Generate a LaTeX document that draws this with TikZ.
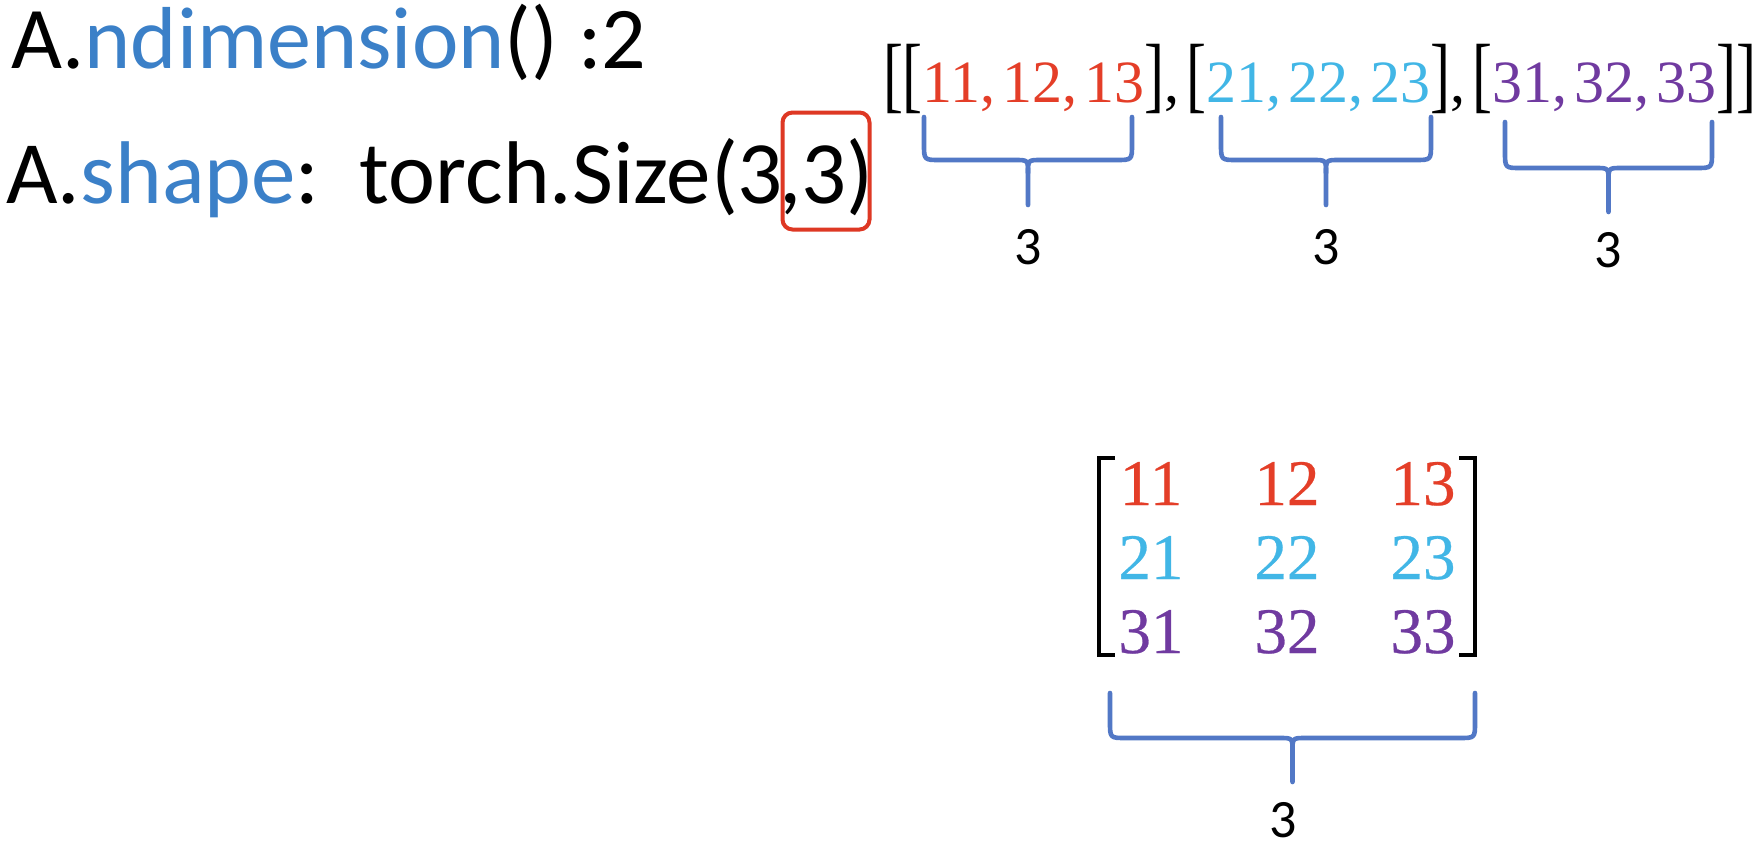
\documentclass[tikz,border=0pt]{standalone}
\usepackage{fontspec}
\usepackage{graphicx}
\setmainfont{Carlito}
\newfontfamily\numfont[FakeBold=0.4]{Liberation Serif}
\newfontfamily\listfont{Liberation Serif}
\definecolor{codeblue}{RGB}{59,128,200}
\definecolor{rowred}{RGB}{228,62,40}
\definecolor{rowcyan}{RGB}{65,182,230}
\definecolor{rowpurple}{RGB}{112,58,160}
\definecolor{bracecol}{RGB}{82,120,198}
\definecolor{boxred}{RGB}{222,56,36}
\newcommand{\bk}[1]{\scalebox{1}[1.4]{#1}}
\newcommand{\lsp}{\hspace{3.5pt}}
\newcommand{\curlybrace}[5]{%
  \pgfmathsetmacro{\bmid}{(#1+#2)/2}%
  \draw[bracestyle] (#1,#3) -- (#1,{#4-16}) .. controls (#1,#4) .. ({#1+16},#4) -- ({\bmid-13},#4) .. controls (\bmid,#4) .. (\bmid,{#4+13}) -- (\bmid,#5);
  \draw[bracestyle] (#2,#3) -- (#2,{#4-16}) .. controls (#2,#4) .. ({#2-16},#4) -- ({\bmid+13},#4) .. controls (\bmid,#4) .. (\bmid,{#4+13});
}
\tikzset{
  txt/.style={anchor=base west, inner sep=0pt, outer sep=0pt},
  lbl/.style={anchor=center, inner sep=0pt, font=\fontsize{27}{30}\selectfont},
  cell/.style={anchor=base, inner sep=0pt, font=\numfont\fontsize{32.5}{36}\selectfont},
  bracestyle/.style={draw=bracecol, line width=2.3pt, line cap=round, line join=round},
  mbracket/.style={draw=black, line width=2pt},
  hilite/.style={draw=boxred, line width=2pt, rounded corners=5pt, inner sep=0pt},
}
\begin{document}
\begin{tikzpicture}[x=0.5pt,y=-0.5pt]
\useasboundingbox[fill=white] (0,0) rectangle (1762,848);

% code lines
\node[txt, font=\fontsize{44}{50}\selectfont] (dim) at (11,68) {A.\textcolor{codeblue}{ndimension}() :2};
\node[txt, font=\fontsize{44.5}{50}\selectfont] (shp) at (6,203) {A.\textcolor{codeblue}{shape}:\ \ torch.Size(3\kern-2pt,3)};
\node[hilite, minimum width=43.5pt, minimum height=58.5pt] (hl) at (826,171) {};

% nested list
\node[txt, font=\listfont\fontsize{30}{34}\selectfont] (lst) at (883,102)
  {\bk{[}\bk{[}\textcolor{rowred}{11,\lsp12,\lsp13}\bk{]},\lsp\bk{[}\textcolor{rowcyan}{21,\lsp22,\lsp23}\bk{]},\lsp\bk{[}\textcolor{rowpurple}{31,\lsp32,\lsp33}\bk{]}\bk{]}};

\curlybrace{924}{1132}{117}{160}{205}
\curlybrace{1221}{1431}{117}{160}{205}
\curlybrace{1505}{1712}{122}{168}{212}
\node[lbl] (l1) at (1028,247) {3};
\node[lbl] (l2) at (1326,247) {3};
\node[lbl] (l3) at (1608,250) {3};

% matrix
\node[cell, text=rowred]    (m11) at (1151,505) {11};
\node[cell, text=rowred]    (m12) at (1287,505) {12};
\node[cell, text=rowred]    (m13) at (1423,505) {13};
\node[cell, text=rowcyan]   (m21) at (1151,579) {21};
\node[cell, text=rowcyan]   (m22) at (1287,579) {22};
\node[cell, text=rowcyan]   (m23) at (1423,579) {23};
\node[cell, text=rowpurple] (m31) at (1151,653) {31};
\node[cell, text=rowpurple] (m32) at (1287,653) {32};
\node[cell, text=rowpurple] (m33) at (1423,653) {33};
\draw[mbracket] (1115,458) -- (1099,458) -- (1099,655) -- (1115,655);
\draw[mbracket] (1459,458) -- (1475,458) -- (1475,655) -- (1459,655);

\curlybrace{1110}{1475}{693}{738}{782}
\node[lbl] (lm) at (1283,820) {3};
\end{tikzpicture}
\end{document}
